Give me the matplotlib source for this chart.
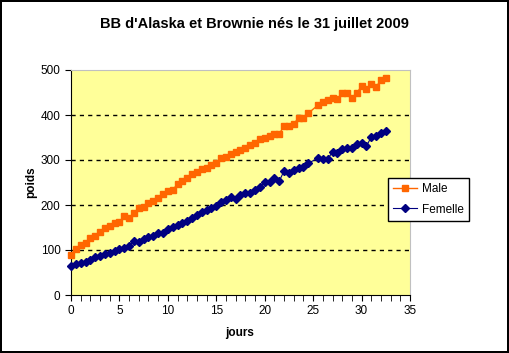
import numpy as np
import matplotlib
matplotlib.use("Agg")
import matplotlib.pyplot as plt

plt.rcParams['font.family'] = ['Liberation Sans', 'DejaVu Sans']

# weighings twice a day, one missing at day 25
jours = [i * 0.5 for i in range(50)] + [25.5 + i * 0.5 for i in range(15)]

male = [89, 102, 111, 116, 127, 131, 140, 149, 153, 160,
        162, 176, 171, 182, 193, 196, 204, 209, 216, 224,
        231, 233, 247, 253, 260, 269, 273, 280, 282, 289,
        293, 304, 307, 313, 318, 322, 327, 333, 338, 347,
        349, 353, 358, 358, 376, 376, 381, 393, 393, 404,
        422, 429, 433, 438, 435, 449, 449, 438, 449, 464,
        457, 468, 462, 478, 482]

femelle = [64, 69, 71, 73, 78, 84, 87, 91, 93, 98,
           102, 104, 109, 120, 118, 124, 129, 131, 138, 138,
           147, 151, 156, 160, 164, 171, 178, 184, 189, 193,
           198, 207, 211, 218, 213, 222, 227, 227, 233, 240,
           251, 251, 260, 253, 276, 271, 278, 282, 284, 293,
           304, 302, 302, 318, 316, 324, 327, 327, 336, 338,
           331, 351, 353, 360, 364]

fig = plt.figure(figsize=(5.09, 3.53), dpi=100)
fig.patch.set_edgecolor('black')
fig.patch.set_linewidth(1.5)

ax = fig.add_axes([71/509, 58/353, 339/509, 225/353])
ax.set_facecolor('#FFFF99')

ax.plot(jours, male, color='#FF6600', marker='s', markersize=5, linewidth=1,
        label='Male', clip_on=False, zorder=3)
ax.plot(jours, femelle, color='#000080', marker='D', markersize=4.2, linewidth=0.8,
        label='Femelle', clip_on=False, zorder=3)

ax.set_xlim(0, 35)
ax.set_ylim(0, 500)
ax.set_xticks(range(0, 36, 5))
ax.set_xticks(range(0, 36), minor=True)
ax.set_yticks(range(0, 501, 100))

for y in range(100, 500, 100):
    ax.axhline(y, color='black', linestyle=(0, (3, 3)), linewidth=1, zorder=1)

for s in ['top', 'right']:
    ax.spines[s].set_color('#C0C0C0')
for s in ['left', 'bottom']:
    ax.spines[s].set_color('black')

ax.tick_params(axis='both', which='major', direction='out', length=4,
               labelsize=8.5, color='black')
ax.tick_params(axis='x', which='minor', direction='out', length=4)
ax.tick_params(axis='y', which='minor', left=False)

fig.text(254/509, 1 - 24/353, "BB d'Alaska et Brownie nés le 31 juillet 2009",
         ha='center', va='center', fontsize=10.5, fontweight='bold')
fig.text(240/509, 1 - 333/353, 'jours', ha='center', va='center',
         fontsize=8.5, fontweight='bold')
fig.text(31/509, 1 - 182/353, 'poids', ha='center', va='center',
         rotation=90, fontsize=8.5, fontweight='bold')

leg = fig.legend(loc='upper left', bbox_to_anchor=(388/509, 1 - 178/353),
                 fontsize=8.5, frameon=True, fancybox=False, shadow=False,
                 handlelength=2.0, borderpad=0.45, labelspacing=0.7,
                 borderaxespad=0, handletextpad=0.4)
leg.get_frame().set_edgecolor('black')
leg.get_frame().set_linewidth(1)
leg.get_frame().set_alpha(1)

fig.savefig('out.png', dpi=100)
